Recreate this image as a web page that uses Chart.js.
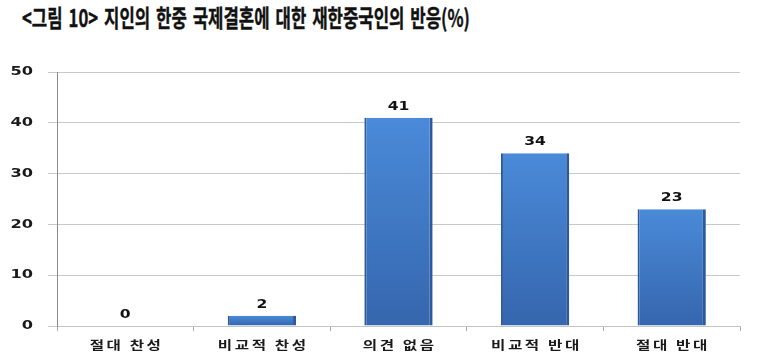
<!DOCTYPE html>
<html><head><meta charset="utf-8">
<script src="https://cdn.jsdelivr.net/npm/chart.js@4"></script>
<style>
html,body{margin:0;padding:0;background:#fff;}
#wrap{position:relative;width:765px;height:359px;overflow:hidden;}
#title{position:absolute;left:22px;top:1px;white-space:nowrap;font-family:"Noto Sans CJK KR";font-weight:700;font-size:24px;line-height:32px;color:#111;transform-origin:left top;-webkit-text-stroke:0.4px #111;word-spacing:3px;}
canvas{position:absolute;left:0;top:0;}
</style></head>
<body>
<div id="wrap">
<div id="title">&lt;그림 10&gt; 지인의 한중 국제결혼에 대한 재한중국인의 반응(%)</div>
<canvas id="c" width="765" height="359"></canvas>
</div>
<script>
const categories = ['절대 찬성', '비교적 찬성', '의견 없음', '비교적 반대', '절대 반대'];
const values = [0, 2, 41, 34, 23];
const yTicks = [0, 10, 20, 30, 40, 50];

const t = document.getElementById('title');
t.style.transform = 'scaleX(' + (448 / t.offsetWidth) + ')';

function barGradient(ctx) {
  const el = ctx.element;
  const chart = ctx.chart;
  if (!el || !chart.chartArea || !Number.isFinite(el.y) || !Number.isFinite(el.base) || el.base - el.y < 1) return '#3d7bc9';
  const g = chart.ctx.createLinearGradient(0, el.y, 0, el.base);
  g.addColorStop(0, '#4a8ad8');
  g.addColorStop(1, '#3566ae');
  return g;
}

// draw tick labels from the library's own label items, stretched horizontally
function stretchedLabels(sx, spacing) {
  return function (chartArea) {
    const ctx = this.ctx;
    const items = this.getLabelItems(chartArea);
    for (const item of items) {
      const o = item.options;
      ctx.save();
      ctx.translate(o.translation[0] + (o.textAlign === 'center' ? spacing * sx / 2 : 0), o.translation[1]);
      ctx.scale(sx, 1);
      ctx.letterSpacing = spacing + 'px';
      ctx.font = item.font.string;
      ctx.fillStyle = o.color;
      ctx.textAlign = o.textAlign;
      ctx.textBaseline = o.textBaseline;
      ctx.fillText(item.label, 0, item.textOffset);
      ctx.restore();
    }
  };
}

const stretchPlugin = {
  id: 'stretch',
  afterLayout(chart) {
    chart.scales.x.drawLabels = stretchedLabels(1.3, 2);
    chart.scales.y.drawLabels = stretchedLabels(1.35, 0);
  },
  afterDatasetsDraw(chart) {
    const ctx = chart.ctx;
    const meta = chart.getDatasetMeta(0);
    meta.data.forEach((bar, i) => {
      ctx.save();
      ctx.translate(bar.x, bar.y - 8);
      ctx.scale(1.3, 1);
      ctx.font = 'bold 12px "DejaVu Sans"';
      ctx.fillStyle = '#111';
      ctx.textAlign = 'center';
      ctx.textBaseline = 'alphabetic';
      ctx.fillText(String(values[i]), 0, 0);
      ctx.restore();
    });
  }
};

const chart = new Chart(document.getElementById('c'), {
  type: 'bar',
  data: {
    labels: categories,
    datasets: [{
      data: values,
      backgroundColor: barGradient,
      borderColor: '#2d5b99',
      borderWidth: { left: 2, right: 3, top: 0, bottom: 0 },
      borderSkipped: false,
      barPercentage: 0.5,
      categoryPercentage: 1
    }]
  },
  options: {
    responsive: false,
    animation: false,
    events: [],
    layout: { padding: { left: 0, right: 25, top: 72, bottom: 0 } },
    plugins: { legend: { display: false }, title: { display: false }, tooltip: { enabled: false } },
    scales: {
      x: {
        afterFit(s) { s.height = 33; },
        grid: { drawOnChartArea: false, offset: true, tickLength: 5, color: '#aaaaaa' },
        border: { display: true, color: '#c4c4c4' },
        ticks: { font: { family: 'Noto Sans CJK KR', weight: 'bold', size: 12 }, color: '#1a1a1a', padding: 7, maxRotation: 0 }
      },
      y: {
        min: 0, max: 50,
        afterFit(s) { s.width = 57; },
        afterBuildTicks(s) { s.ticks = yTicks.map(v => ({ value: v })); },
        grid: { color: '#c8c8c8', tickLength: 9, tickColor: '#c8c8c8' },
        border: { display: true, color: '#8a8a8a' },
        ticks: { stepSize: 10, font: { family: 'DejaVu Sans', weight: 'bold', size: 12 }, color: '#1a1a1a', padding: 15 }
      }
    }
  },
  plugins: [stretchPlugin]
});
chart.update();
</script>
</body></html>
